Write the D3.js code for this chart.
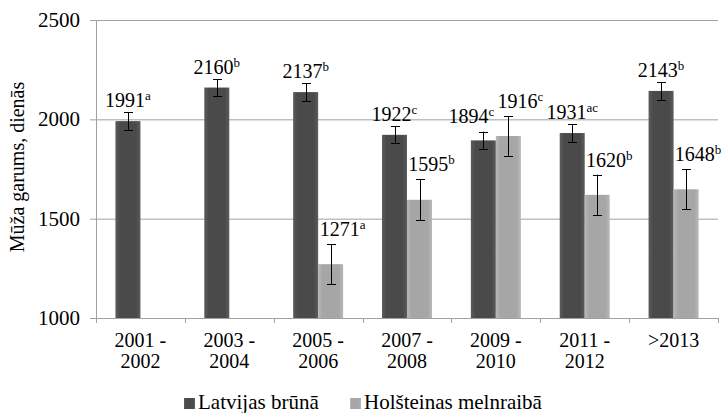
<!DOCTYPE html>
<html><head><meta charset="utf-8">
<script src="https://cdn.jsdelivr.net/npm/d3@7"></script>
<style>body{margin:0;background:#fff}svg{display:block}</style>
</head><body><svg id="c" width="726" height="413"></svg>
<script>
const categories = [["2001 -","2002"],["2003 -","2004"],["2005 -","2006"],["2007 -","2008"],["2009 -","2010"],["2011 -","2012"],[">2013"]];
const seriesNames = ["Latvijas brūnā","Holšteinas melnraibā"];
const brownValues = [1991,2160,2137,1922,1894,1931,2143];
const brownErrors = [45,43,46,42,44,44,45];
const brownLetters = ["a","b","b","c","c","ac","b"];
const holsteinValues = [null,null,1271,1595,1916,1620,1648];
const holsteinErrors = [null,null,100,103,100,102,101];
const holsteinLetters = [null,null,"a","b","c","b","b"];
const yTicks = [1000,1500,2000,2500];
const yTitle = "Mūža garums, dienās";

const FF = "'Liberation Serif', 'Times New Roman', serif";
const svg = d3.select("#c");
const L=96,R=718,T=20,B=318;
const y = d3.scaleLinear().domain([1000,2500]).range([B,T]);
const x = d3.scaleBand().domain(d3.range(categories.length)).range([L,R]).padding(0);
const bw = 25;
const defs = svg.append("defs");
function grad(id, edge, mid){
  const g = defs.append("linearGradient").attr("id",id).attr("x1","0").attr("x2","1").attr("y1","0").attr("y2","0");
  g.append("stop").attr("offset","0%").attr("stop-color",edge);
  g.append("stop").attr("offset","18%").attr("stop-color",mid);
  g.append("stop").attr("offset","82%").attr("stop-color",mid);
  g.append("stop").attr("offset","100%").attr("stop-color",edge);
}
grad("gd","#5c5c5c","#4a4a4a");
grad("gl","#b8b8b8","#a6a6a6");
function txt(sel){ return sel.append("text").style("font-family",FF).attr("fill","#000"); }

const gridC = "#a0a0a0";
svg.append("g").selectAll("line").data(yTicks).join("line")
  .attr("x1",L-6).attr("x2",R).attr("y1",d=>y(d)+0.5).attr("y2",d=>y(d)+0.5)
  .attr("stroke",gridC).attr("stroke-width",1);
svg.append("line").attr("x1",L+0.5).attr("x2",L+0.5).attr("y1",T).attr("y2",B).attr("stroke",gridC);
svg.append("g").selectAll("line").data(d3.range(categories.length+1)).join("line")
  .attr("x1",i=>Math.round(L+i*x.bandwidth())+0.5).attr("x2",i=>Math.round(L+i*x.bandwidth())+0.5)
  .attr("y1",B).attr("y2",B+5).attr("stroke",gridC);
yTicks.forEach(d=>txt(svg).attr("x",80).attr("y",y(d)+7).attr("text-anchor","end").attr("font-size",21).text(d));
txt(svg).attr("transform","translate(24,167) rotate(-90)")
  .attr("text-anchor","middle").attr("font-size",20).text(yTitle);
categories.forEach((lines,i)=>{
  lines.forEach((s,k)=>txt(svg).attr("x",x(i)+x.bandwidth()/2).attr("y",347+k*21)
    .attr("text-anchor","middle").attr("font-size",20).text(s));
});

const series = [
  {vals:brownValues,errs:brownErrors,lets:brownLetters,fill:"url(#gd)",off:-bw},
  {vals:holsteinValues,errs:holsteinErrors,lets:holsteinLetters,fill:"url(#gl)",off:0}
];
series.forEach((s,si)=>{
  const data = s.vals.map((v,i)=>({v,i,e:s.errs[i],l:s.lets[i]})).filter(d=>d.v!=null);
  const g = svg.append("g");
  g.selectAll("rect").data(data).join("rect")
    .attr("x",d=>x(d.i)+x.bandwidth()/2+s.off).attr("width",bw)
    .attr("y",d=>y(d.v)).attr("height",d=>y(1000)-y(d.v)).attr("fill",s.fill);
  const cx = d=>x(d.i)+x.bandwidth()/2+s.off+bw/2;
  const eb = g.selectAll("g.eb").data(data).join("g");
  eb.append("line").attr("x1",d=>Math.round(cx(d))+0.5).attr("x2",d=>Math.round(cx(d))+0.5)
    .attr("y1",d=>y(d.v+d.e)).attr("y2",d=>y(d.v-d.e)).attr("stroke","#000").attr("stroke-width",1);
  [1,-1].forEach(sg=>eb.append("line").attr("x1",d=>Math.round(cx(d))-4).attr("x2",d=>Math.round(cx(d))+5)
    .attr("y1",d=>Math.round(y(d.v+sg*d.e))+0.5).attr("y2",d=>Math.round(y(d.v+sg*d.e))+0.5).attr("stroke","#000"));
  s.data=data; s.cx=cx;
});
const lab = svg.append("g");
series.forEach((s,si)=>{
  s.data.forEach(d=>{
    let dx = si===1?12:0, gap = si===1?8:5;
    if(si===0){
      const o = holsteinValues[d.i];
      if(o!=null && Math.abs(y(o+holsteinErrors[d.i]) - y(d.v+d.e))<25){dx=-12;gap=9;}
    }
    const t = txt(lab).attr("x",s.cx(d)+dx).attr("y",y(d.v+d.e)-gap)
      .attr("text-anchor","middle").attr("font-size",20);
    t.append("tspan").text(d.v);
    t.append("tspan").attr("font-size",13).attr("dy",-7).text(d.l);
  });
});
const leg = svg.append("g");
const lx=[184,350];
seriesNames.forEach((n,i)=>{
  leg.append("rect").attr("x",lx[i]).attr("y",398).attr("width",11).attr("height",11).attr("fill",i?"url(#gl)":"url(#gd)");
  txt(leg).attr("x",lx[i]+14).attr("y",409).attr("font-size",21).text(n);
});
</script></body></html>
